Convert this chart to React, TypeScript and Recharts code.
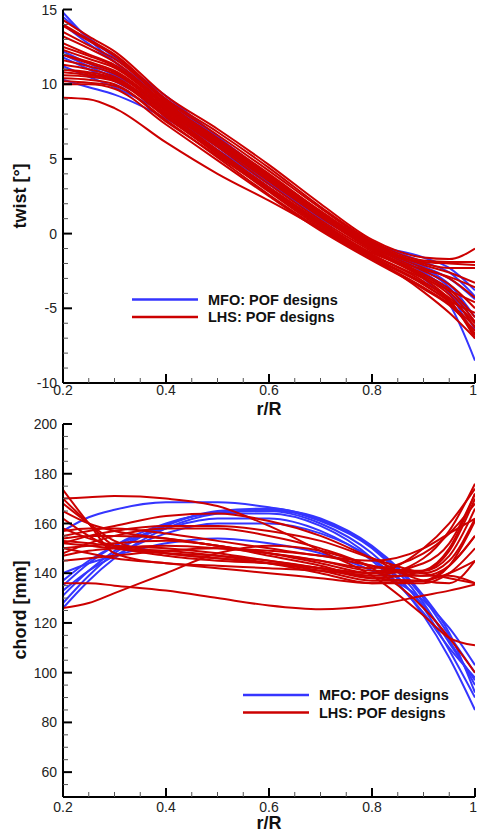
import React from "react";
import { LineChart, Line, XAxis, YAxis } from "recharts";

// r/R stations where the curves were sampled
const R_R = [0.2, 0.25, 0.3, 0.4, 0.5, 0.6, 0.7, 0.8, 0.9, 0.95, 1.0];

// twist [deg] – MFO designs
const TWIST_MFO = [
  [14.8, 13.0, 11.5, 8.9, 6.3, 3.8, 1.4, -0.7, -3.0, -4.7, -8.5],
  [14.5, 13.1, 11.8, 9.2, 6.5, 3.9, 1.4, -0.8, -2.6, -4.0, -7.0],
  [12.2, 11.4, 10.6, 8.7, 6.3, 3.8, 1.3, -0.8, -2.3, -3.4, -5.6],
  [11.8, 11.0, 10.2, 8.3, 6.0, 3.6, 1.2, -0.9, -2.6, -3.9, -6.4],
  [11.2, 10.5, 9.8, 8.0, 5.8, 3.4, 1.1, -0.9, -2.2, -3.0, -4.4],
  [10.3, 9.8, 9.3, 7.7, 5.6, 3.3, 1.0, -0.7, -1.6, -2.3, -3.8],
  [14.0, 12.7, 11.5, 9.0, 6.4, 3.9, 1.4, -0.6, -1.9, -2.6, -4.2],
  [12.0, 11.2, 10.4, 8.4, 6.1, 3.7, 1.2, -0.8, -2.4, -3.6, -6.0],
];

// twist [deg] – LHS designs
const TWIST_LHS = [
  [14.3, 13.2, 12.2, 9.2, 7.0, 4.6, 2.0, -0.4, -1.6, -1.7, -1.0],
  [14.0, 13.0, 12.0, 9.0, 6.8, 4.4, 1.8, -0.5, -1.8, -1.9, -1.9],
  [13.5, 12.6, 11.7, 8.9, 6.6, 4.2, 1.7, -0.6, -1.9, -2.0, -2.1],
  [13.2, 12.4, 11.5, 8.7, 6.4, 4.0, 1.5, -0.8, -2.3, -3.0, -4.3],
  [12.75, 12.0, 11.3, 8.6, 6.2, 3.8, 1.4, -0.9, -2.5, -3.4, -5.0],
  [12.3, 11.7, 11.1, 8.5, 6.1, 3.7, 1.3, -1.0, -2.7, -3.7, -5.6],
  [11.96, 11.4, 10.8, 8.3, 5.9, 3.5, 1.1, -1.1, -2.9, -4.1, -6.3],
  [11.6, 11.2, 10.7, 8.2, 5.8, 3.3, 0.9, -1.2, -3.0, -4.4, -7.0],
  [11.3, 11.0, 10.5, 8.1, 5.6, 3.1, 0.7, -1.4, -3.2, -4.5, -6.7],
  [10.96, 10.8, 10.4, 8.0, 5.5, 3.0, 0.6, -1.5, -3.3, -4.3, -6.0],
  [10.6, 10.5, 10.2, 7.8, 5.3, 2.8, 0.4, -1.6, -3.4, -4.5, -5.3],
  [10.4, 10.3, 10.0, 7.6, 5.1, 2.6, 0.3, -1.7, -3.6, -4.7, -6.2],
  [10.0, 10.0, 9.7, 7.3, 4.9, 2.5, 0.2, -1.8, -3.7, -4.8, -6.5],
  [9.1, 9.0, 8.4, 6.1, 4.0, 2.2, 0.3, -1.6, -3.9, -5.3, -7.0],
  [12.0, 11.5, 10.9, 8.4, 6.0, 3.6, 1.2, -0.9, -2.0, -2.3, -2.3],
  [11.0, 10.7, 10.3, 7.9, 5.5, 3.1, 0.8, -1.3, -2.4, -2.9, -3.6],
  [13.9, 12.9, 11.9, 8.8, 6.3, 3.9, 1.5, -0.7, -2.1, -2.6, -3.3],
  [10.2, 10.1, 9.9, 7.5, 5.2, 2.9, 0.6, -1.4, -3.0, -3.8, -4.6],
  [12.5, 11.9, 11.2, 8.6, 6.2, 3.7, 1.3, -1.0, -2.8, -3.9, -5.9],
  [10.8, 10.6, 10.3, 7.8, 5.4, 2.9, 0.5, -1.6, -3.4, -4.6, -6.8],
];

// chord [mm] – MFO designs
const CHORD_MFO = [
  [157, 162.5, 165.5, 168.5, 168.5, 166.5, 162, 151, 131, 116, 92],
  [126, 137, 146, 158, 164, 165.5, 161, 150, 128, 112, 97],
  [128, 139, 148, 159, 165, 166, 161.5, 150.5, 130, 115, 100],
  [131, 141, 149, 159.5, 164.5, 165, 160, 148, 126, 109, 90],
  [135, 144, 151, 160, 164, 164, 159, 146, 123, 106, 85],
  [137, 145, 151, 158, 162, 162, 157, 145, 124, 110, 98],
  [140, 144, 147, 152, 154, 152, 148, 141, 129, 118, 103],
  [133, 141, 147, 156, 160, 160, 156, 146, 127, 113, 95],
];

// chord [mm] – LHS designs
const CHORD_LHS = [
  [170, 170.5, 171, 170, 167, 159, 149, 139, 123, 114, 111],
  [173.5, 160, 148, 144, 143, 142, 141, 139, 146, 157, 176],
  [170, 160, 151, 147, 145, 144, 142, 140, 144, 152, 172],
  [168, 160, 153, 148, 146, 144, 142, 140, 150, 160, 174],
  [165, 160, 157, 154, 151, 148, 145, 142, 148, 156, 168],
  [152, 155, 157, 159, 159, 157, 153, 146, 140, 138, 136],
  [157, 158, 158, 156, 153, 150, 147, 145, 150, 156, 162],
  [154, 155, 155, 154, 151, 148, 144, 140, 141, 149, 170],
  [153, 152, 151, 150, 148, 145, 142, 139, 139, 143, 155],
  [150, 151, 152, 153, 151, 147, 143, 138, 137, 140, 145],
  [148, 152, 155, 158, 158, 155, 150, 142, 126, 114, 100],
  [136, 136, 135, 133, 130, 127, 125.5, 127, 131, 133, 135.5],
  [126, 128, 132, 140, 148, 151, 149, 143, 139, 139, 136],
  [145, 146, 147, 149, 150, 149, 147, 143, 140, 145, 162],
  [155, 157, 159, 163, 164, 161, 155, 146, 137, 136, 145],
  [147, 149, 150, 151, 150, 148, 145, 141, 141, 147, 166],
  [158, 154, 151, 148, 146, 144, 141, 137, 137, 143, 161],
  [150, 148, 146, 144, 142, 140, 138, 136, 137, 143, 155],
  [162, 155, 150, 148, 147, 145, 142, 138, 141, 150, 172],
  [152, 151, 150, 149, 147, 144, 140, 136, 136, 140, 150],
];

const X_TICKS = [0.2, 0.25, 0.3, 0.35, 0.4, 0.45, 0.5, 0.55, 0.6, 0.65, 0.7, 0.75, 0.8, 0.85, 0.9, 0.95, 1];
const X_MAJOR = [0.2, 0.4, 0.6, 0.8, 1];
const TWIST_TICKS = [-10, -9, -8, -7, -6, -5, -4, -3, -2, -1, 0, 1, 2, 3, 4, 5, 6, 7, 8, 9, 10, 11, 12, 13, 14, 15];
const TWIST_MAJOR = [-10, -5, 0, 5, 10, 15];
const CHORD_TICKS = [50, 55, 60, 65, 70, 75, 80, 85, 90, 95, 100, 105, 110, 115, 120, 125, 130, 135, 140, 145, 150, 155, 160, 165, 170, 175, 180, 185, 190, 195, 200];
const CHORD_MAJOR = [60, 80, 100, 120, 140, 160, 180, 200];

const BLUE = "#3535ff";
const RED = "#cc0000";
const FONT = "'Liberation Sans', Arial, Helvetica, sans-serif";

function buildRows(mfo: number[][], lhs: number[][]) {
  return R_R.map((x, i) => {
    const row: Record<string, number> = { x };
    mfo.forEach((c, j) => (row["m" + j] = c[i]));
    lhs.forEach((c, j) => (row["l" + j] = c[i]));
    return row;
  });
}

const near = (list: number[], v: number) => list.some((m) => Math.abs(m - v) < 1e-6);

// inward ticks (Tecplot style): tickSize=0 puts x/y right on the axis line
function makeXTick(gap: number) {
  return function XTick(p: any) {
    const v = Number(p.payload.value);
    const major = near(X_MAJOR, v);
    const last = Math.abs(v - 1) < 1e-6;
    const y = p.y;
    return (
      <g>
        <line x1={p.x} x2={p.x} y1={y} y2={y - (major ? 9 : 5)} stroke={major ? "#000" : "#555"} strokeWidth={major ? 2 : 1} />
        {major && (
          <text
            x={last ? p.x + 2 : p.x}
            y={y + gap}
            dy="0.72em"
            textAnchor={last ? "end" : "middle"}
            fontFamily={FONT}
            fontSize={14}
            fill="#222"
          >
            {last ? "1" : String(v)}
          </text>
        )}
      </g>
    );
  };
}

function makeYTick(majors: number[], skip?: number) {
  return function YTick(p: any) {
    const v = Number(p.payload.value);
    if (skip !== undefined && v === skip) return <g />;
    const major = near(majors, v);
    const x = p.x;
    return (
      <g>
        <line x1={x} x2={x + (major ? 9 : 5)} y1={p.y} y2={p.y} stroke={major ? "#000" : "#555"} strokeWidth={major ? 2 : 1} />
        {major && (
          <text x={x - 6} y={p.y} dy="0.36em" textAnchor="end" fontFamily={FONT} fontSize={14} fill="#222">
            {v}
          </text>
        )}
      </g>
    );
  };
}

function Panel({
  mfo,
  lhs,
  domain,
  ticks,
  majors,
  margin,
  gap,
  skip,
}: {
  mfo: number[][];
  lhs: number[][];
  domain: [number, number];
  ticks: number[];
  majors: number[];
  margin: { top: number; right: number; left: number; bottom: number };
  gap: number;
  skip?: number;
}) {
  const rows = buildRows(mfo, lhs);
  return (
    <LineChart width={477} height={416} data={rows} margin={margin}>
      <XAxis
        dataKey="x"
        type="number"
        domain={[0.2, 1]}
        ticks={X_TICKS}
        interval={0}
        tickSize={0}
        tickMargin={0}
        height={30}
        axisLine={{ stroke: "#000", strokeWidth: 2 }}
        tickLine={false}
        tick={makeXTick(gap)}
        allowDataOverflow
      />
      <YAxis
        type="number"
        domain={domain}
        ticks={ticks}
        interval={0}
        tickSize={0}
        tickMargin={0}
        width={40}
        axisLine={{ stroke: "#000", strokeWidth: 2 }}
        tickLine={false}
        tick={makeYTick(majors, skip)}
        allowDataOverflow
      />
      {mfo.map((_, j) => (
        <Line key={"m" + j} dataKey={"m" + j} type="monotone" stroke={BLUE} strokeWidth={2} dot={false} activeDot={false} isAnimationActive={false} />
      ))}
      {lhs.map((_, j) => (
        <Line key={"l" + j} dataKey={"l" + j} type="monotone" stroke={RED} strokeWidth={2} dot={false} activeDot={false} isAnimationActive={false} />
      ))}
    </LineChart>
  );
}

function LegendBox({ x, y }: { x: number; y: number }) {
  const items = [
    { name: "MFO: POF designs", color: BLUE },
    { name: "LHS: POF designs", color: RED },
  ];
  return (
    <g>
      {items.map((it, i) => (
        <g key={it.name}>
          <line x1={x} x2={x + 66} y1={y + i * 17.5} y2={y + i * 17.5} stroke={it.color} strokeWidth={2.5} />
          <text x={x + 76} y={y + i * 17.5} dy="0.36em" fontFamily={FONT} fontWeight="bold" fontSize={14.5} fill="#111">
            {it.name}
          </text>
        </g>
      ))}
    </g>
  );
}

export default function App() {
  const title = { fontFamily: FONT, fontWeight: "bold" as const, fontSize: 18, fill: "#111" };
  return (
    <div style={{ position: "absolute", left: 0, top: 0, width: 477, height: 832, background: "#fff" }}>
      <div style={{ position: "absolute", left: 0, top: 0 }}>
        <Panel
          mfo={TWIST_MFO}
          lhs={TWIST_LHS}
          domain={[-10, 15]}
          ticks={TWIST_TICKS}
          majors={TWIST_MAJOR}
          margin={{ top: 9.5, right: 2, left: 23, bottom: 3 }}
          gap={2}
        />
      </div>
      <div style={{ position: "absolute", left: 0, top: 416 }}>
        <Panel
          mfo={CHORD_MFO}
          lhs={CHORD_LHS}
          domain={[50, 200]}
          ticks={CHORD_TICKS}
          majors={CHORD_MAJOR}
          margin={{ top: 8, right: 2, left: 23, bottom: 5 }}
          gap={5}
          skip={50}
        />
      </div>
      <svg width={477} height={832} style={{ position: "absolute", left: 0, top: 0, pointerEvents: "none" }}>
        <text {...title} x={269} y={409} dy="0.36em" textAnchor="middle">r/R</text>
        <text {...title} x={269} y={823} dy="0.36em" textAnchor="middle">r/R</text>
        <text {...title} transform="translate(20,196) rotate(-90)" textAnchor="middle" dy="0.36em">twist [°]</text>
        <text {...title} transform="translate(20,610) rotate(-90)" textAnchor="middle" dy="0.36em">chord [mm]</text>
        <LegendBox x={132} y={299.5} />
        <LegendBox x={243} y={695} />
      </svg>
    </div>
  );
}
